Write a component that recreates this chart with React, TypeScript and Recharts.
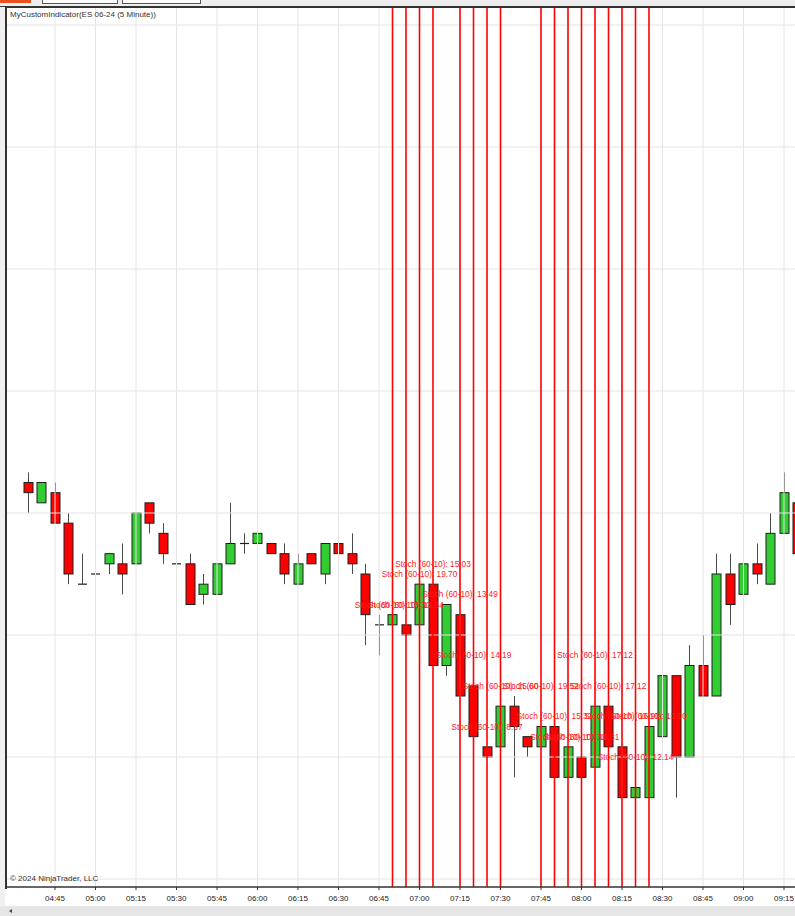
import React from 'react';
import { ComposedChart, Bar, XAxis, YAxis, ReferenceLine, Scatter } from 'recharts';

const times = [
  '04:35','04:40','04:45','04:50','04:55','05:00','05:05','05:10','05:15','05:20',
  '05:25','05:30','05:35','05:40','05:45','05:50','05:55','06:00','06:05','06:10',
  '06:15','06:20','06:25','06:30','06:35','06:40','06:45','06:50','06:55','07:00',
  '07:05','07:10','07:15','07:20','07:25','07:30','07:35','07:40','07:45','07:50',
  '07:55','08:00','08:05','08:10','08:15','08:20','08:25','08:30','08:35','08:40',
  '08:45','08:50','08:55','09:00','09:05','09:10','09:15','09:20',
];

const opens = [
  5300.75, 5300.25, 5300.5, 5299.75, 5298.25, 5298.5, 5298.75, 5298.75, 5298.75, 5300.25,
  5299.5, 5298.75, 5298.75, 5298.0, 5298.0, 5298.75, 5299.25, 5299.25, 5299.25, 5299.0,
  5298.25, 5299.0, 5298.5, 5299.25, 5299.0, 5298.5, 5297.25, 5297.25, 5297.25, 5297.25,
  5298.25, 5296.25, 5297.5, 5295.75, 5294.25, 5294.25, 5295.25, 5294.5, 5294.25, 5294.75,
  5293.5, 5294.0, 5293.75, 5295.25, 5294.25, 5293.0, 5293.0, 5294.5, 5296.0, 5294.0,
  5296.25, 5295.5, 5298.5, 5298.0, 5298.75, 5298.25, 5299.5, 5300.25,
];
const highs = [
  5301.0, 5300.75, 5300.75, 5300.0, 5299.0, 5298.75, 5299.0, 5299.25, 5300.0, 5300.25,
  5299.75, 5299.0, 5299.0, 5298.5, 5298.75, 5300.25, 5299.5, 5299.75, 5299.25, 5299.25,
  5299.0, 5299.0, 5299.25, 5299.5, 5299.5, 5298.75, 5297.5, 5297.5, 5297.25, 5298.25,
  5298.25, 5297.75, 5297.5, 5295.75, 5294.25, 5295.25, 5295.5, 5294.5, 5294.75, 5294.75,
  5294.25, 5294.0, 5295.25, 5295.25, 5294.25, 5293.25, 5294.75, 5296.75, 5296.0, 5296.75,
  5297.0, 5299.0, 5299.0, 5299.25, 5299.25, 5300.0, 5301.0, 5300.25,
];
const lows = [
  5300.0, 5300.25, 5299.75, 5298.25, 5298.25, 5298.25, 5298.5, 5298.0, 5298.75, 5299.5,
  5298.75, 5298.75, 5297.75, 5297.75, 5298.0, 5298.75, 5299.0, 5299.25, 5299.0, 5298.25,
  5298.25, 5298.75, 5298.25, 5298.5, 5298.5, 5296.75, 5296.5, 5297.25, 5297.0, 5297.25,
  5296.25, 5296.0, 5295.5, 5294.5, 5294.0, 5294.25, 5293.5, 5294.0, 5294.25, 5293.5,
  5293.5, 5293.5, 5293.75, 5294.25, 5293.0, 5293.0, 5293.0, 5294.25, 5293.0, 5294.0,
  5295.5, 5295.5, 5297.25, 5298.0, 5298.25, 5298.25, 5299.5, 5299.0,
];
const closes = [
  5300.5, 5300.75, 5299.75, 5298.5, 5298.25, 5298.5, 5299.0, 5298.5, 5300.0, 5299.75,
  5299.0, 5298.75, 5297.75, 5298.25, 5298.75, 5299.25, 5299.25, 5299.5, 5299.0, 5298.5,
  5298.75, 5298.75, 5299.25, 5299.0, 5298.75, 5297.5, 5297.25, 5297.5, 5297.0, 5298.25,
  5296.25, 5297.75, 5295.5, 5294.5, 5294.0, 5295.25, 5294.75, 5294.25, 5294.75, 5293.5,
  5294.25, 5293.5, 5295.25, 5294.25, 5293.0, 5293.25, 5294.75, 5296.0, 5294.0, 5296.25,
  5295.5, 5298.5, 5297.75, 5298.75, 5298.5, 5299.5, 5300.5, 5299.0,
];

// bars where Stoch (60-10) < 20
const signalBars = [27, 28, 29, 30, 32, 33, 34, 35, 38, 39, 40, 41, 42, 43, 44, 45, 46];
const stochValues = [
  '13.30', '13.64', '19.70', '15.03', '13.49', '14.19', '8.57', '15.60', '19.52',
  '15.32', '10.30', '10.31', '17.12', '17.12', '16.90', '12.14', '13.90',
];
const labelPrices = [
  5297.75, 5297.75, 5298.5, 5298.75, 5298.0, 5296.5, 5294.75, 5295.75, 5295.75,
  5295.0, 5294.5, 5294.5, 5296.5, 5295.75, 5295.0, 5294.0, 5295.0,
];

const tickIndex = [2, 5, 8, 11, 14, 17, 20, 23, 26, 29, 32, 35, 38, 41, 44, 47, 50, 53, 56];
const tickLabels = [
  '04:45','05:00','05:15','05:30','05:45','06:00','06:15','06:30','06:45','07:00',
  '07:15','07:30','07:45','08:00','08:15','08:30','08:45','09:00','09:15',
];
const gridPrices = [5291, 5294, 5297, 5300, 5303, 5306, 5309, 5312];

const X_DOMAIN: [number, number] = [-1.5556, 59.407];
const Y_DOMAIN: [number, number] = [5290.8033, 5312.418];

const candleData = times.map((t, i) => ({
  i,
  t,
  open: opens[i],
  high: highs[i],
  low: lows[i],
  close: closes[i],
  range: [lows[i], highs[i]],
}));

const labelData = signalBars.map((b, k) => ({
  i: b,
  p: labelPrices[k],
  text: `Stoch (60-10): ${stochValues[k]}`,
}));

const UP = '#32cd32';
const DOWN = '#ff0000';
const OUTLINE = '#1e1e1e';
const WICK = '#4a4a4a';
const FONT = '"Liberation Sans", Arial, sans-serif';

const Candle = (props: any) => {
  const { x, y, width, height, payload } = props;
  if (!payload || x == null || y == null) return null;
  const { open, close, high, low } = payload;
  const top = Math.min(y, y + height);
  const h = Math.abs(height);
  const span = high - low;
  const ratio = span > 0 ? h / span : 0;
  const yOf = (v: number) => top + (high - v) * ratio;
  const cx = Math.round(x + width / 2) + 0.5;
  const bw = 9;
  const bodyTop = yOf(Math.max(open, close));
  const bodyBot = yOf(Math.min(open, close));
  const up = close > open;
  const doji = close === open;
  return (
    <g>
      <line x1={cx} x2={cx} y1={yOf(high)} y2={yOf(low)} stroke={WICK} strokeWidth={1} />
      {doji ? (
        <line x1={cx - bw / 2} x2={cx + bw / 2} y1={bodyTop} y2={bodyTop} stroke={OUTLINE} strokeWidth={1.2} />
      ) : (
        <rect
          x={cx - bw / 2}
          y={bodyTop}
          width={bw}
          height={Math.max(bodyBot - bodyTop, 1)}
          fill={up ? UP : DOWN}
          stroke={OUTLINE}
          strokeWidth={1}
        />
      )}
    </g>
  );
};

const StochLabel = (props: any) => {
  const { cx, cy, payload } = props;
  if (cx == null || cy == null) return null;
  return (
    <text
      x={cx}
      y={cy}
      textAnchor="middle"
      dominantBaseline="central"
      fill="#ff1a1a"
      fontSize={8.3}
      fontFamily={FONT}
    >
      {payload.text}
    </text>
  );
};

const tickLabelOf = (v: number) => {
  const k = tickIndex.indexOf(Math.round(v));
  return k >= 0 ? tickLabels[k] : '';
};

export default function App() {
  return (
    <div
      style={{
        position: 'absolute',
        left: 0,
        top: 0,
        width: 795,
        height: 916,
        overflow: 'hidden',
        background: '#ffffff',
        fontFamily: FONT,
      }}
    >
      {/* toolbar strip */}
      <div style={{ position: 'absolute', left: 0, top: 0, width: 795, height: 7, background: '#eeeeee' }} />
      <div style={{ position: 'absolute', left: 0, top: 0, width: 31, height: 3, background: '#e8501e' }} />
      <div style={{ position: 'absolute', left: 42, top: -2, width: 74, height: 4, border: '1px solid #555', background: '#fff' }} />
      <div style={{ position: 'absolute', left: 122, top: -2, width: 77, height: 4, border: '1px solid #555', background: '#fff' }} />
      <div style={{ position: 'absolute', left: 0, top: 6, width: 795, height: 2, background: '#333' }} />
      {/* left frame */}
      <div style={{ position: 'absolute', left: 0, top: 7, width: 5, height: 909, background: '#f0f0f0' }} />
      <div style={{ position: 'absolute', left: 5, top: 7, width: 2, height: 882, background: '#333' }} />
      {/* bottom scrollbar */}
      <div style={{ position: 'absolute', left: 0, top: 906, width: 795, height: 10, background: '#e6e6e6' }} />
      <div style={{ position: 'absolute', left: 9, top: 909, width: 0, height: 0, borderTop: '2px solid transparent', borderBottom: '2px solid transparent', borderRight: '3px solid #444' }} />

      <div style={{ position: 'absolute', left: 0, top: 0 }}>
        <ComposedChart
          width={830}
          height={916}
          data={candleData}
          margin={{ top: 8, right: 0, bottom: 0, left: 7 }}
        >
          <XAxis
            dataKey="i"
            type="number"
            domain={X_DOMAIN}
            allowDataOverflow
            ticks={tickIndex}
            interval={0}
            tickFormatter={tickLabelOf}
            height={29}
            axisLine={{ stroke: '#333', strokeWidth: 1.5 }}
            tickLine={{ stroke: '#333' }}
            tickSize={3}
            tickMargin={5}
            tick={{ fontSize: 8, fill: '#222', fontFamily: FONT }}
          />
          <YAxis type="number" domain={Y_DOMAIN} allowDataOverflow hide />
          {gridPrices.map((p) => (
            <ReferenceLine key={`gy${p}`} y={p} stroke="#e4e4e4" strokeWidth={1} />
          ))}
          {tickIndex.map((t) => (
            <ReferenceLine key={`gx${t}`} x={t} stroke="#e4e4e4" strokeWidth={1} />
          ))}
          <Bar dataKey="range" barSize={9} shape={<Candle />} isAnimationActive={false} />
          {signalBars.map((b) => (
            <ReferenceLine key={`sig${b}`} x={b} stroke="#ff0000" strokeWidth={1.6} />
          ))}
          <Scatter data={labelData} dataKey="p" shape={<StochLabel />} isAnimationActive={false} />
        </ComposedChart>
      </div>

      <div style={{ position: 'absolute', left: 10, top: 10, fontSize: 8, color: '#333', whiteSpace: 'nowrap' }}>
        MyCustomIndicator(ES 06-24 (5 Minute))
      </div>
      <div style={{ position: 'absolute', left: 10, top: 874, fontSize: 8, color: '#333', whiteSpace: 'nowrap' }}>
        © 2024 NinjaTrader, LLC
      </div>
    </div>
  );
}
